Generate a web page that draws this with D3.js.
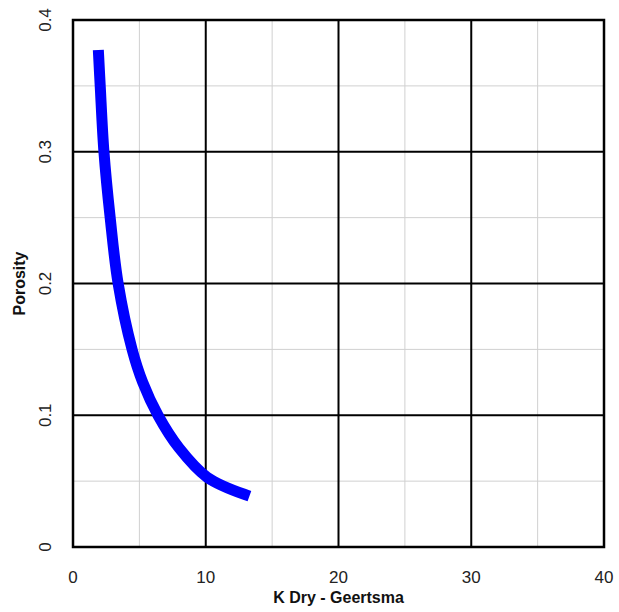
<!DOCTYPE html>
<html lang="en">
<head>
    <meta charset="UTF-8">
    <title>K Dry - Geertsma</title>
    <script src="https://cdn.jsdelivr.net/npm/d3@7/dist/d3.min.js"></script>
    <style>
        body { margin: 0; background: #fff; }
        #mainsvg { display: block; }
    </style>
</head>
<body>
    <svg width="619" height="612" id="mainsvg"></svg>
    <script>
        // values
        const kDry     = [1.93, 2.05, 2.33, 2.8, 3.4, 4.45, 5.25, 6.4, 8.0, 10.1, 12.9];
        const porosity = [0.373, 0.35, 0.3, 0.25, 0.2, 0.15, 0.125, 0.1, 0.075, 0.053, 0.040];
        const xTicks = [0, 10, 20, 30, 40];
        const yTicks = [0, 0.1, 0.2, 0.3, 0.4];
        const xMinor = [5, 15, 25, 35];
        const yMinor = [0.05, 0.15, 0.25, 0.35];

        const svg = d3.select('#mainsvg');
        const margin = {top: 20, right: 15, bottom: 65, left: 73};
        const innerWidth = 604 - margin.left;
        const innerHeight = 547 - margin.top;

        const g = svg.append('g')
            .attr('transform', `translate(${margin.left}, ${margin.top})`);

        const x = d3.scaleLinear().domain([0, 40]).range([0, innerWidth]);
        const y = d3.scaleLinear().domain([0, 0.4]).range([innerHeight, 0]);

        // minor grid
        g.selectAll('.xminor').data(xMinor).join('line')
            .attr('x1', d => x(d)).attr('x2', d => x(d))
            .attr('y1', 0).attr('y2', innerHeight)
            .attr('stroke', '#d0d0d0').attr('stroke-width', 1);
        g.selectAll('.yminor').data(yMinor).join('line')
            .attr('y1', d => y(d)).attr('y2', d => y(d))
            .attr('x1', 0).attr('x2', innerWidth)
            .attr('stroke', '#d0d0d0').attr('stroke-width', 1);

        // major grid
        g.append('g').selectAll('line').data(xTicks.slice(1, -1)).join('line')
            .attr('x1', d => x(d)).attr('x2', d => x(d))
            .attr('y1', 0).attr('y2', innerHeight)
            .attr('stroke', '#000').attr('stroke-width', 2);
        g.append('g').selectAll('line').data(yTicks.slice(1, -1)).join('line')
            .attr('y1', d => y(d)).attr('y2', d => y(d))
            .attr('x1', 0).attr('x2', innerWidth)
            .attr('stroke', '#000').attr('stroke-width', 2);

        // frame
        g.append('rect')
            .attr('width', innerWidth).attr('height', innerHeight)
            .attr('fill', 'none').attr('stroke', '#000').attr('stroke-width', 2.5);

        // curve
        const pts = kDry.map((k, i) => [k, porosity[i]]);
        const line = d3.line()
            .x(d => x(d[0])).y(d => y(d[1]))
            .curve(d3.curveCatmullRom.alpha(0.5));
        g.append('path')
            .datum(pts)
            .attr('d', line)
            .attr('fill', 'none')
            .attr('stroke', '#0000ff')
            .attr('stroke-width', 11)
            .attr('stroke-linecap', 'square');

        // tick labels
        g.selectAll('.xlab').data(xTicks).join('text')
            .attr('x', d => x(d)).attr('y', innerHeight + 36)
            .attr('text-anchor', 'middle')
            .attr('font-family', 'Liberation Sans, Arial, sans-serif')
            .attr('font-size', 17).attr('fill', '#222')
            .text(d => d);
        g.selectAll('.ylab').data(yTicks).join('text')
            .attr('transform', d => `translate(-22, ${y(d)}) rotate(-90)`)
            .attr('text-anchor', 'middle')
            .attr('font-family', 'Liberation Sans, Arial, sans-serif')
            .attr('font-size', 17).attr('fill', '#222')
            .text(d => d);

        // axis titles
        svg.append('text')
            .attr('x', margin.left + innerWidth / 2).attr('y', 603)
            .attr('text-anchor', 'middle')
            .attr('font-family', 'Liberation Sans, Arial, sans-serif')
            .attr('font-size', 16).attr('font-weight', 'bold').attr('fill', '#111')
            .text('K Dry - Geertsma');
        svg.append('text')
            .attr('transform', `translate(25, ${margin.top + innerHeight / 2}) rotate(-90)`)
            .attr('text-anchor', 'middle')
            .attr('font-family', 'Liberation Sans, Arial, sans-serif')
            .attr('font-size', 16).attr('font-weight', 'bold').attr('fill', '#111')
            .text('Porosity');
    </script>
</body>
</html>
